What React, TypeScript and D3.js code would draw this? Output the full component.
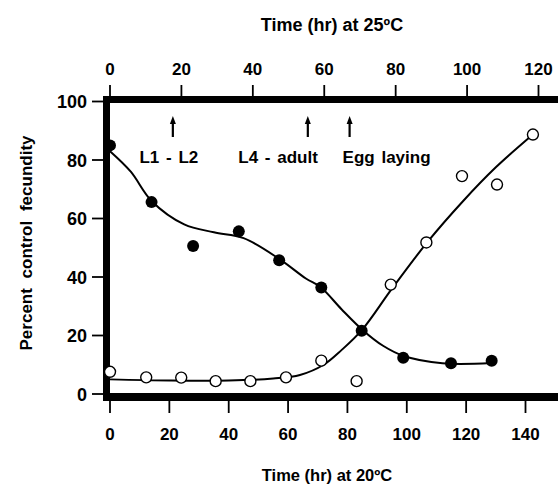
import * as d3 from "d3";
import React, { useRef, useEffect } from "react";

// bottom axis: hours at 20C
const bottomTicks = [0, 20, 40, 60, 80, 100, 120, 140];
// top axis: hours at 25C
const topTicks = [0, 20, 40, 60, 80, 100, 120];
const yTicks = [0, 20, 40, 60, 80, 100];

// filled circles (hr at 20C, percent)
const filledHr = [0, 14, 28, 43.4, 57, 71.2, 84.8, 98.8, 114.9, 128.6];
const filledPct = [85, 65.6, 50.6, 55.6, 45.7, 36.4, 21.6, 12.4, 10.5, 11.4];

// open circles
const openHr = [0, 12.2, 24, 35.6, 47.3, 59.3, 71.2, 83.1, 94.6, 106.6, 118.6, 130.4, 142.5];
const openPct = [7.6, 5.7, 5.6, 4.4, 4.4, 5.7, 11.4, 4.4, 37.4, 51.8, 74.5, 71.6, 88.7];

// fitted curves
const filledCurveHr = [0, 7, 14, 25, 35, 45, 57, 66, 71, 78, 85, 92, 99, 112, 128.6];
const filledCurvePct = [83, 76, 66, 58, 55.3, 53.3, 46.2, 39.5, 36.5, 29, 22, 16.5, 13, 10.5, 10.6];
const openCurveHr = [0, 20, 40, 55, 64, 72, 78, 85, 95, 107, 119, 130, 142.5];
const openCurvePct = [5, 4.6, 4.6, 5.3, 6.5, 10, 15, 22, 36, 52, 66, 77.5, 88.7];

// developmental stages (hr at 25C)
const stageHr = [17.6, 55.4, 67.1];
const stageLabels = ["L1 - L2", "L4 - adult", "Egg laying"];

const font = "'Liberation Sans', Arial, Helvetica, sans-serif";

export default function App() {
  const ref = useRef<SVGSVGElement>(null);

  useEffect(() => {
    const svg = d3.select(ref.current);
    svg.selectAll("*").remove();

    const x20 = d3.scaleLinear().domain([0, 140]).range([110, 525.5]);
    const x25 = d3.scaleLinear().domain([0, 120]).range([110, 538.5]);
    const y = d3.scaleLinear().domain([0, 100]).range([394, 101.5]);

    const ink = "#000";

    // frame
    svg.append("line")
      .attr("x1", 106.5).attr("x2", 106.5)
      .attr("y1", 96).attr("y2", 401)
      .attr("stroke", ink).attr("stroke-width", 7);
    svg.append("line")
      .attr("x1", 103).attr("x2", 558)
      .attr("y1", 99.5).attr("y2", 99.5)
      .attr("stroke", ink).attr("stroke-width", 7);
    svg.append("line")
      .attr("x1", 103).attr("x2", 558)
      .attr("y1", 397).attr("y2", 397)
      .attr("stroke", ink).attr("stroke-width", 8);

    // left axis
    const yAxis = svg.append("g");
    yTicks.forEach(t => {
      yAxis.append("line")
        .attr("x1", 92).attr("x2", 104)
        .attr("y1", y(t)).attr("y2", y(t))
        .attr("stroke", ink).attr("stroke-width", 1.8);
      yAxis.append("text")
        .attr("x", 87).attr("y", y(t) + 6.5)
        .attr("text-anchor", "end")
        .attr("font-size", 18).attr("font-weight", "bold")
        .attr("font-family", font)
        .text(t);
    });

    // bottom axis
    const xAxis = svg.append("g");
    bottomTicks.forEach(t => {
      xAxis.append("line")
        .attr("x1", x20(t)).attr("x2", x20(t))
        .attr("y1", 400).attr("y2", 413)
        .attr("stroke", ink).attr("stroke-width", 1.8);
      xAxis.append("text")
        .attr("x", x20(t)).attr("y", 440)
        .attr("text-anchor", "middle")
        .attr("font-size", 17).attr("font-weight", "bold")
        .attr("font-family", font)
        .text(t);
    });

    // top axis
    const tAxis = svg.append("g");
    topTicks.forEach(t => {
      tAxis.append("line")
        .attr("x1", x25(t)).attr("x2", x25(t))
        .attr("y1", 85).attr("y2", 97)
        .attr("stroke", ink).attr("stroke-width", 1.8);
      tAxis.append("text")
        .attr("x", x25(t)).attr("y", 75)
        .attr("text-anchor", "middle")
        .attr("font-size", 17).attr("font-weight", "bold")
        .attr("font-family", font)
        .text(t);
    });

    // axis titles
    svg.append("text")
      .attr("x", 332).attr("y", 31)
      .attr("text-anchor", "middle")
      .attr("font-size", 18).attr("font-weight", "bold")
      .attr("font-family", font)
      .text("Time (hr) at 25ºC");
    svg.append("text")
      .attr("x", 327).attr("y", 481)
      .attr("text-anchor", "middle")
      .attr("font-size", 16.5).attr("font-weight", "bold")
      .attr("font-family", font)
      .text("Time (hr) at 20ºC");
    svg.append("text")
      .attr("transform", "translate(32,243) rotate(-90)")
      .attr("text-anchor", "middle")
      .attr("font-size", 17).attr("font-weight", "bold")
      .attr("font-family", font)
      .attr("word-spacing", 5)
      .text("Percent control fecundity");

    // stage arrows and labels
    const anchors = ["middle", "end", "start"];
    const offsets = [-4, 10, -7];
    stageHr.forEach((h, i) => {
      const ax = x25(h);
      svg.append("line")
        .attr("x1", ax).attr("x2", ax)
        .attr("y1", 137).attr("y2", 122)
        .attr("stroke", ink).attr("stroke-width", 2.2);
      svg.append("path")
        .attr("d", `M${ax - 3},${124} L${ax},${116} L${ax + 3},${124} Z`)
        .attr("fill", ink);
      svg.append("text")
        .attr("x", ax + offsets[i]).attr("y", 163)
        .attr("text-anchor", anchors[i])
        .attr("font-size", 17).attr("font-weight", "bold")
        .attr("font-family", font)
        .attr("word-spacing", 2)
        .text(stageLabels[i]);
    });

    // curves
    const line = d3.line<[number, number]>()
      .x(d => x20(d[0]))
      .y(d => y(d[1]))
      .curve(d3.curveCatmullRom.alpha(0.5));

    svg.append("path")
      .datum(filledCurveHr.map((h, i) => [h, filledCurvePct[i]] as [number, number]))
      .attr("d", line)
      .attr("fill", "none").attr("stroke", ink).attr("stroke-width", 2);
    svg.append("path")
      .datum(openCurveHr.map((h, i) => [h, openCurvePct[i]] as [number, number]))
      .attr("d", line)
      .attr("fill", "none").attr("stroke", ink).attr("stroke-width", 2);

    // points
    svg.append("g").selectAll("circle")
      .data(openHr.map((h, i) => [h, openPct[i]]))
      .enter().append("circle")
      .attr("cx", d => x20(d[0]))
      .attr("cy", d => y(d[1]))
      .attr("r", 5.5)
      .attr("fill", "#fff")
      .attr("stroke", ink).attr("stroke-width", 1.4);
    svg.append("g").selectAll("circle")
      .data(filledHr.map((h, i) => [h, filledPct[i]]))
      .enter().append("circle")
      .attr("cx", d => x20(d[0]))
      .attr("cy", d => y(d[1]))
      .attr("r", 6)
      .attr("fill", ink);
  }, []);

  return (
    <svg
      ref={ref}
      width={558}
      height={495}
      style={{ position: "absolute", left: 0, top: 0, background: "#fff" }}
    />
  );
}
